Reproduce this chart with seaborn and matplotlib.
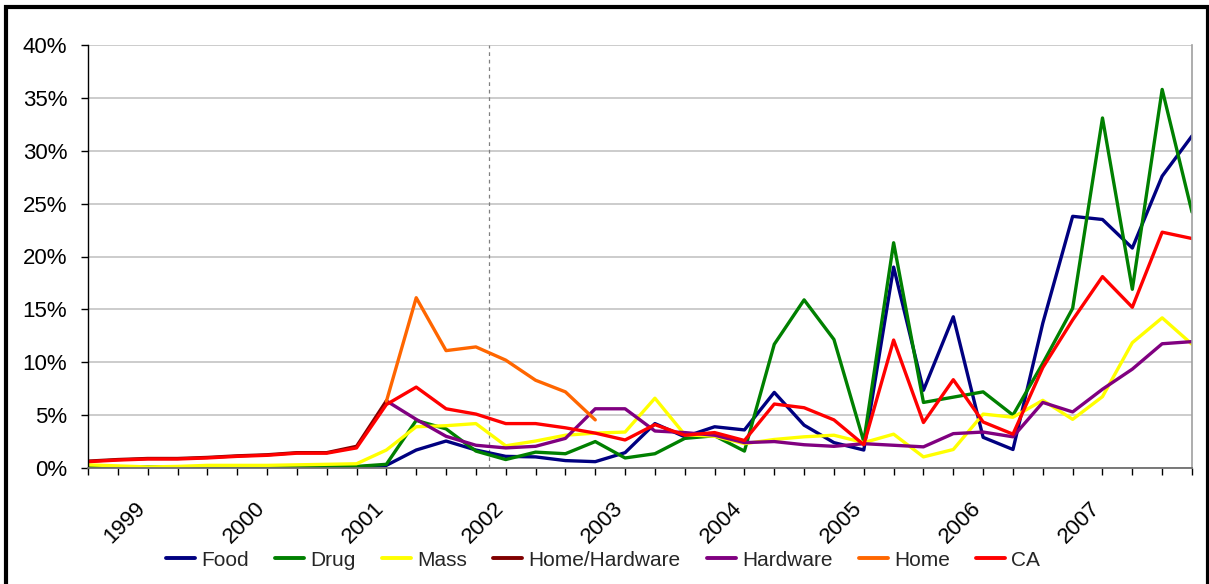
import numpy as np
import pandas as pd
import matplotlib
matplotlib.use("Agg")
import matplotlib.pyplot as plt
import matplotlib.transforms as mtransforms
from matplotlib.lines import Line2D
from matplotlib.patches import Rectangle
from matplotlib.ticker import FuncFormatter, MultipleLocator, FixedLocator
import seaborn as sns

# ---- data: quarterly share (%) by channel ----
years = ["1999", "2000", "2001", "2002", "2003", "2004", "2005", "2006", "2007"]
n_quarters = 38
first_label_quarter = 2
quarters_per_year = 4
nan = np.nan

food = [0.05, 0.05, 0.05, 0.05, 0.05, 0.05, 0.05, 0.08, 0.08, 0.10,
        0.25, 1.7, 2.55, 1.7, 1.1, 1.05, 0.7, 0.6, 1.45, 4.2,
        2.95, 3.9, 3.6, 7.15, 4.05, 2.4, 1.7, 19.0, 7.35, 14.3,
        2.9, 1.75, 13.7, 23.8, 23.5, 20.8, 27.6, 31.4]
drug = [0.1, 0.1, 0.1, 0.1, 0.1, 0.1, 0.1, 0.1, 0.1, 0.15,
        0.35, 4.5, 3.7, 1.6, 0.8, 1.5, 1.35, 2.5, 0.95, 1.35,
        2.8, 3.05, 1.6, 11.7, 15.9, 12.15, 2.5, 21.3, 6.2, 6.7,
        7.2, 5.0, 9.9, 15.1, 33.1, 16.9, 35.8, 24.2]
mass = [0.3, 0.2, 0.1, 0.15, 0.25, 0.25, 0.25, 0.3, 0.35, 0.4,
        1.7, 3.9, 4.0, 4.2, 2.1, 2.55, 3.1, 3.3, 3.4, 6.6,
        3.15, 3.0, 2.3, 2.7, 2.95, 3.1, 2.4, 3.2, 1.05, 1.75,
        5.1, 4.8, 6.4, 4.6, 6.75, 11.85, 14.2, 11.7]
home_hardware = [0.65, 0.8, 0.9, 0.9, 1.0, 1.15, 1.25, 1.45, 1.45, 2.05,
                 6.35, nan, nan, nan, nan, nan, nan, nan, nan, nan,
                 nan, nan, nan, nan, nan, nan, nan, nan, nan, nan,
                 nan, nan, nan, nan, nan, nan, nan, nan]
hardware = [nan, nan, nan, nan, nan, nan, nan, nan, nan, nan,
            6.35, 4.6, 3.0, 2.15, 1.9, 2.05, 2.8, 5.6, 5.6, 3.5,
            3.35, 3.1, 2.4, 2.5, 2.2, 2.05, 2.3, 2.15, 2.0, 3.25,
            3.4, 2.95, 6.2, 5.3, 7.45, 9.35, 11.75, 11.95]
home = [nan, nan, nan, nan, nan, nan, nan, nan, nan, nan,
        6.3, 16.1, 11.1, 11.45, 10.2, 8.3, 7.2, 4.55, nan, nan,
        nan, nan, nan, nan, nan, nan, nan, nan, nan, nan,
        nan, nan, nan, nan, nan, nan, nan, nan]
ca = [0.6, 0.75, 0.85, 0.85, 0.95, 1.1, 1.2, 1.4, 1.4, 1.9,
      6.0, 7.65, 5.6, 5.1, 4.2, 4.2, 3.8, 3.3, 2.65, 4.1,
      3.1, 3.35, 2.6, 6.05, 5.7, 4.55, 2.2, 12.1, 4.3, 8.35,
      4.35, 3.2, 9.5, 14.0, 18.1, 15.2, 22.3, 21.7]

channels = ["Food", "Drug", "Mass", "Home/Hardware", "Hardware", "Home", "CA"]
series = [food, drug, mass, home_hardware, hardware, home, ca]
colors = ["#000080", "#008000", "#FFFF00", "#800000", "#800080", "#FF6600", "#FF0000"]
divider_quarter = 13.43

# long-form table for seaborn
frames = []
for name, vals in zip(channels, series):
    frames.append(pd.DataFrame({"quarter": np.arange(n_quarters),
                                "share": vals, "channel": name}))
df = pd.concat(frames, ignore_index=True).dropna()

# ---- figure ----
sns.set_theme(style="white")
plt.rcParams["font.family"] = ["Liberation Sans", "DejaVu Sans"]

W, H = 1209, 584
fig = plt.figure(figsize=(W / 100, H / 100), dpi=100)
fig.patch.set_facecolor("white")
ax = fig.add_axes([88 / W, 1 - 468 / H, (1192 - 88) / W, (468 - 45) / H])
ax.set_facecolor("white")

sns.lineplot(data=df, x="quarter", y="share", hue="channel",
             hue_order=channels, palette=dict(zip(channels, colors)),
             linewidth=2.4, errorbar=None, legend=False, ax=ax)

ax.set_xlim(0, n_quarters - 1)
ax.set_ylim(0, 40)
ax.set_xlabel("")
ax.set_ylabel("")

# horizontal gridlines
ax.yaxis.set_major_locator(MultipleLocator(5))
ax.yaxis.set_major_formatter(FuncFormatter(lambda v, p: f"{v:.0f}%"))
ax.grid(axis="y", color="#c4c4c4", linewidth=1.2)
ax.grid(axis="x", visible=False)
ax.set_axisbelow(True)

# divider line
ax.axvline(divider_quarter, color="#808080", linestyle=(0, (3, 3)), linewidth=0.9, zorder=1)

# spines
ax.spines["top"].set_visible(False)
ax.spines["left"].set_color("black")
ax.spines["left"].set_linewidth(1.0)
ax.spines["bottom"].set_color("#707070")
ax.spines["bottom"].set_linewidth(1.3)
ax.spines["right"].set_color("#a0a0a0")
ax.spines["right"].set_linewidth(1.2)

# x ticks: a mark every quarter, year labels every fourth quarter
label_pos = [first_label_quarter + quarters_per_year * k for k in range(len(years))]
ax.xaxis.set_major_locator(FixedLocator(label_pos))
ax.set_xticklabels(years)
ax.xaxis.set_minor_locator(FixedLocator(list(range(n_quarters))))
ax.tick_params(axis="x", which="both", direction="out", length=5, width=1,
               color="black", bottom=True)
ax.tick_params(axis="x", which="major", pad=22, labelsize=16, labelcolor="black")
ax.tick_params(axis="y", which="major", direction="out", length=5, width=1,
               color="black", left=True, pad=10, labelsize=16, labelcolor="black")

shift = mtransforms.ScaledTranslation(-5 / 100, 0, fig.dpi_scale_trans)
for lab in ax.get_xticklabels():
    lab.set_rotation(45)
    lab.set_rotation_mode("anchor")
    lab.set_ha("right")
    lab.set_va("center")
    lab.set_transform(lab.get_transform() + shift)

# legend
handles = [Line2D([0], [0], color=c, linewidth=2.8) for c in colors]
fig.legend(handles, channels, loc="center", bbox_to_anchor=(603 / W, 1 - 560 / H),
           ncol=7, frameon=False, fontsize=15, handlelength=1.4,
           handletextpad=0.3, columnspacing=1.25)

# outer frame
fig.patches.append(Rectangle((6 / W, -0.05), (1207.5 - 6) / W, 1.05 - 7 / H,
                             transform=fig.transFigure, fill=False,
                             edgecolor="black", linewidth=3.0, clip_on=False))

fig.savefig("out.png", dpi=100, facecolor="white")
